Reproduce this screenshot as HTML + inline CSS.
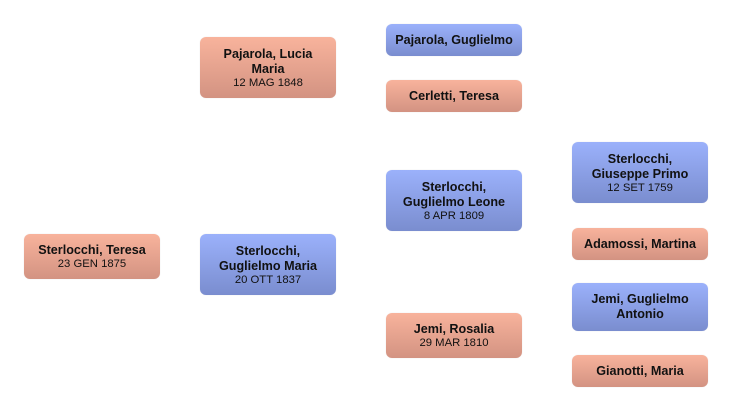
<!DOCTYPE html>
<html>
<head>
<meta charset="utf-8">
<style>
html,body{margin:0;padding:0;background:#fff;}
body{width:732px;height:411px;position:relative;overflow:hidden;font-family:"Liberation Sans","DejaVu Sans",sans-serif;color:#111;}
.b{position:absolute;width:136px;border-radius:6px;display:flex;flex-direction:column;justify-content:center;align-items:center;text-align:center;box-shadow:0 0 1px rgba(0,0,0,0.12);}
.f{background:linear-gradient(#f8b39c,#d39382);}
.m{background:linear-gradient(#9bb1fb,#7a8dcf);}
.n{font-weight:bold;font-size:12.6px;line-height:15px;}
.d{font-size:11.3px;line-height:12px;margin-top:0px;}
</style>
</head>
<body>
<div class="b f" style="left:24px;top:234px;height:45px;"><div class="n">Sterlocchi, Teresa</div><div class="d">23 GEN 1875</div></div>

<div class="b f" style="left:200px;top:37px;height:61px;"><div class="n">Pajarola, Lucia<br>Maria</div><div class="d">12 MAG 1848</div></div>
<div class="b m" style="left:200px;top:234px;height:61px;"><div class="n">Sterlocchi,<br>Guglielmo Maria</div><div class="d">20 OTT 1837</div></div>

<div class="b m" style="left:386px;top:24px;height:32px;"><div class="n">Pajarola, Guglielmo</div></div>
<div class="b f" style="left:386px;top:80px;height:32px;"><div class="n">Cerletti, Teresa</div></div>
<div class="b m" style="left:386px;top:170px;height:61px;"><div class="n">Sterlocchi,<br>Guglielmo Leone</div><div class="d">8 APR 1809</div></div>
<div class="b f" style="left:386px;top:313px;height:45px;"><div class="n">Jemi, Rosalia</div><div class="d">29 MAR 1810</div></div>

<div class="b m" style="left:572px;top:142px;height:61px;"><div class="n">Sterlocchi,<br>Giuseppe Primo</div><div class="d">12 SET 1759</div></div>
<div class="b f" style="left:572px;top:228px;height:32px;"><div class="n">Adamossi, Martina</div></div>
<div class="b m" style="left:572px;top:283px;height:48px;"><div class="n">Jemi, Guglielmo<br>Antonio</div></div>
<div class="b f" style="left:572px;top:355px;height:32px;"><div class="n">Gianotti, Maria</div></div>
</body>
</html>
